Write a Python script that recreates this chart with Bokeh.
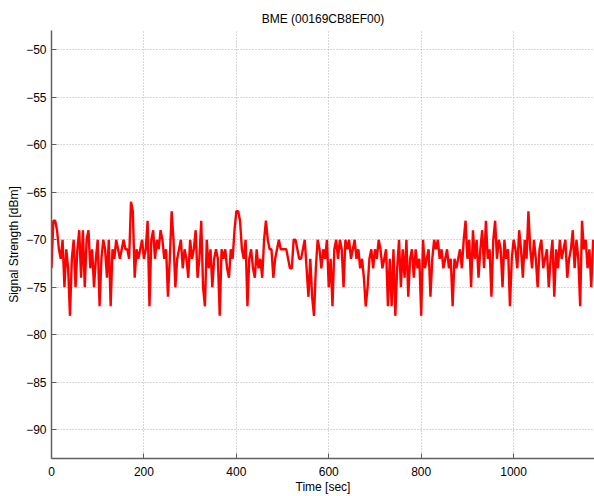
from bokeh.plotting import figure
from bokeh.models import Range1d, FixedTicker
from bokeh.embed import file_html
from bokeh.resources import INLINE

# Sampling every 4 s
time_sec = list(range(0, 1176, 4))

signal_dbm = [
    # 0 - 236
    -73, -68, -68, -69, -71, -72, -70, -75, -71, -73,
    -78, -72, -70, -75, -71, -69, -74, -69, -75, -70,
    -69, -73, -71, -75, -72, -70, -77, -72, -70, -71,
    -74, -70, -77, -71, -72, -70, -71, -72, -71, -70,
    -71, -71, -72, -66, -67, -74, -71, -72, -71, -70,
    -72, -71, -68, -77, -70, -69, -72, -70, -71, -69,
    # 240 - 476
    -70, -72, -71, -76, -72, -67, -70, -75, -72, -71,
    -70, -73, -71, -72, -74, -70, -72, -71, -69, -74,
    -72, -68, -75, -77, -70, -73, -71, -75, -72, -71,
    -72, -78, -71, -72, -71, -73, -74, -71, -72, -69,
    -67, -67, -68, -71, -72, -70, -77, -72, -71, -73,
    -74, -71, -73, -72, -74, -70, -68, -70, -71, -71,
    # 480 - 716
    -74, -72, -71, -70, -71, -71, -71, -71, -72, -73,
    -73, -70, -70, -71, -72, -72, -71, -70, -73, -76,
    -72, -76, -78, -73, -70, -71, -73, -71, -72, -70,
    -75, -72, -77, -71, -70, -72, -70, -71, -75, -70,
    -71, -70, -72, -71, -70, -72, -71, -73, -72, -74,
    -77, -75, -72, -71, -73, -71, -72, -70, -71, -73,
    # 720 - 956
    -72, -71, -77, -72, -77, -71, -78, -73, -70, -75,
    -71, -74, -70, -76, -72, -71, -74, -71, -73, -72,
    -78, -70, -73, -72, -71, -76, -72, -70, -71, -70,
    -72, -71, -73, -72, -71, -73, -72, -77, -72, -73,
    -72, -71, -73, -70, -68, -72, -70, -75, -69, -72,
    -70, -74, -71, -69, -73, -68, -72, -71, -76, -70,
    # 960 - 1172
    -68, -72, -70, -71, -75, -70, -72, -71, -77, -72,
    -70, -71, -73, -69, -71, -74, -70, -72, -67, -71,
    -73, -70, -72, -75, -71, -70, -73, -72, -71, -75,
    -72, -70, -76, -71, -73, -70, -72, -71, -70, -74,
    -72, -71, -69, -73, -70, -72, -77, -68, -71, -70,
    -73, -71, -75, -70,
]

x_ticks = [0, 200, 400, 600, 800, 1000]
y_ticks = [-90, -85, -80, -75, -70, -65, -60, -55, -50]

FONT = "Liberation Sans"

p = figure(width=594, height=496, output_backend="svg", toolbar_location=None,
           title="BME (00169CB8EF00)",
           x_range=Range1d(0, 1175), y_range=Range1d(-93, -48),
           min_border_left=51, min_border_right=0, min_border_top=30, min_border_bottom=0)

p.line(time_sec, signal_dbm, line_color="#ff0000", line_width=2.4)

p.title.align = "center"
p.title.text_font = FONT
p.title.text_font_size = "12px"
p.title.text_font_style = "normal"
p.title.text_color = "#000000"

p.outline_line_color = None
p.background_fill_color = "white"
p.border_fill_color = "white"

for ax in (p.xaxis[0], p.yaxis[0]):
    ax.axis_line_color = "#606060"
    ax.axis_line_width = 1.5
    ax.major_tick_line_color = "#606060"
    ax.major_tick_in = 5
    ax.major_tick_out = 0
    ax.minor_tick_line_color = None
    ax.major_label_text_font = FONT
    ax.major_label_text_font_size = "12px"
    ax.major_label_text_color = "#000000"
    ax.axis_label_text_font = FONT
    ax.axis_label_text_font_size = "12px"
    ax.axis_label_text_font_style = "normal"
    ax.axis_label_text_color = "#000000"

p.xaxis[0].ticker = FixedTicker(ticks=x_ticks)
p.yaxis[0].ticker = FixedTicker(ticks=y_ticks)
p.xaxis[0].axis_label = "Time [sec]"
p.yaxis[0].axis_label = "Signal Strength [dBm]"
p.xaxis[0].major_label_standoff = 8
p.yaxis[0].major_label_standoff = 5
p.xaxis[0].axis_label_standoff = 1
p.yaxis[0].axis_label_standoff = 2

for g in (p.xgrid[0], p.ygrid[0]):
    g.grid_line_color = "#b0b0b0"
    g.grid_line_dash = "1 2"
    g.grid_line_width = 1

open("out.html", "w").write(file_html(p, INLINE))
